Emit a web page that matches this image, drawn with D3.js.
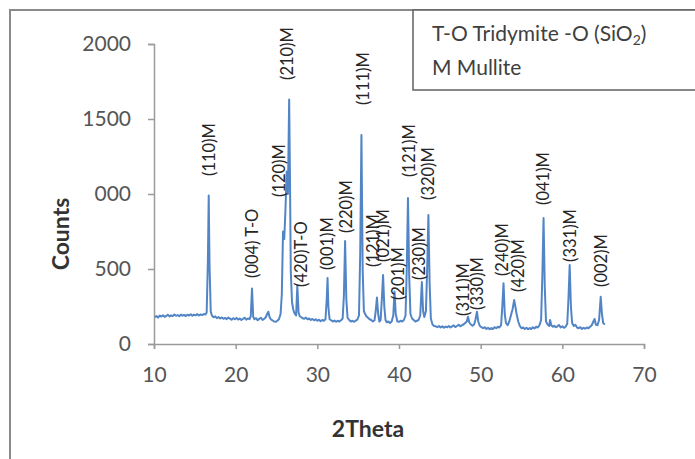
<!DOCTYPE html>
<html>
<head>
<meta charset="utf-8">
<script src="https://cdn.jsdelivr.net/npm/d3@7"></script>
<style>
  html, body { margin: 0; padding: 0; background: #fff; }
  svg { display: block; font-family: Lato, "Open Sans", sans-serif; }
</style>
</head>
<body>
<svg id="chart" width="695" height="459"></svg>
<script>
// X-ray diffraction scan: [2theta (deg), counts]
const scan = [
  [10.1,178],[10.3,186],[10.5,176],[10.7,190],[10.9,183],[11.1,192],[11.3,181],[11.5,188],
  [11.7,195],[11.9,184],[12.1,191],[12.3,186],[12.5,197],[12.7,188],[12.9,193],[13.1,185],
  [13.3,196],[13.5,189],[13.7,194],[13.9,186],[14.1,195],[14.3,190],[14.5,198],[14.7,188],
  [14.9,196],[15.1,191],[15.3,199],[15.5,190],[15.7,197],[15.9,193],[16.1,200],[16.3,196],
  [16.45,210],[16.6,560],[16.7,990],[16.8,520],[16.95,215],[17.1,188],[17.3,178],[17.5,184],
  [17.7,172],[17.9,180],[18.1,170],[18.3,177],[18.5,168],[18.7,174],[18.9,166],[19.1,176],
  [19.3,169],[19.5,162],[19.7,172],[19.9,165],[20.1,174],[20.3,163],[20.5,170],[20.7,160],
  [20.9,168],[21.1,175],[21.3,162],[21.5,170],[21.7,166],[21.85,185],[22.0,370],[22.15,180],
  [22.3,165],[22.5,172],[22.7,158],[22.9,168],[23.1,175],[23.3,160],[23.5,168],[23.7,180],
  [23.9,205],[24.0,215],[24.15,180],[24.3,165],[24.5,158],[24.7,150],[24.9,148],[25.1,155],
  [25.3,165],[25.5,200],[25.65,330],[25.8,750],[25.95,700],[26.1,900],[26.25,1150],[26.4,1000],
  [26.55,1630],[26.65,1100],[26.75,480],[26.9,280],[27.05,230],[27.2,205],[27.4,190],[27.55,390],
  [27.7,210],[27.85,185],[28.0,180],[28.2,172],[28.4,168],[28.6,176],[28.8,165],[29.0,170],
  [29.2,160],[29.4,167],[29.6,158],[29.8,165],[30.0,155],[30.2,162],[30.4,152],[30.6,160],
  [30.8,155],[31.0,165],[31.15,300],[31.25,440],[31.35,250],[31.5,165],[31.7,158],[31.9,150],
  [32.1,156],[32.3,148],[32.5,155],[32.7,150],[32.9,158],[33.1,170],[33.25,320],[33.4,687],
  [33.55,300],[33.7,175],[33.9,160],[34.1,150],[34.3,155],[34.5,148],[34.7,156],[34.9,162],
  [35.1,190],[35.25,600],[35.4,1393],[35.55,500],[35.7,220],[35.85,200],[36.0,185],[36.2,175],
  [36.4,165],[36.6,160],[36.8,150],[37.0,158],[37.15,220],[37.3,310],[37.45,200],[37.6,150],
  [37.75,160],[37.9,300],[38.05,460],[38.2,250],[38.35,160],[38.5,145],[38.7,150],[38.9,140],
  [39.1,150],[39.3,190],[39.45,350],[39.6,200],[39.8,150],[40.0,148],[40.2,155],[40.4,150],
  [40.6,160],[40.8,190],[40.95,500],[41.1,973],[41.25,450],[41.4,200],[41.6,170],[41.8,160],
  [42.0,150],[42.2,155],[42.4,160],[42.6,190],[42.8,413],[42.95,220],[43.1,180],[43.3,220],
  [43.45,500],[43.6,860],[43.75,400],[43.9,170],[44.1,130],[44.3,120],[44.5,118],[44.7,112],
  [44.9,120],[45.1,110],[45.3,118],[45.5,108],[45.7,116],[45.9,112],[46.1,120],[46.3,110],
  [46.5,117],[46.7,124],[46.9,113],[47.1,120],[47.3,128],[47.5,118],[47.7,125],[47.9,130],
  [48.1,140],[48.3,150],[48.45,182],[48.6,145],[48.8,130],[49.0,122],[49.2,130],[49.35,160],
  [49.55,215],[49.7,150],[49.9,120],[50.1,112],[50.3,105],[50.5,112],[50.7,100],[50.9,108],
  [51.1,98],[51.3,106],[51.5,100],[51.7,112],[51.9,105],[52.1,115],[52.3,110],[52.5,125],
  [52.65,250],[52.8,405],[52.95,200],[53.1,140],[53.3,125],[53.5,150],[53.7,190],[53.9,230],
  [54.1,293],[54.25,250],[54.4,200],[54.6,150],[54.8,120],[55.0,105],[55.2,110],[55.4,100],
  [55.6,108],[55.8,98],[56.0,106],[56.2,100],[56.4,112],[56.6,104],[56.8,115],[57.0,110],
  [57.2,125],[57.4,160],[57.55,450],[57.7,840],[57.85,380],[58.0,150],[58.2,130],[58.4,120],
  [58.5,160],[58.65,125],[58.85,115],[59.0,122],[59.2,112],[59.4,118],[59.6,127],[59.8,110],
  [60.0,118],[60.2,108],[60.4,115],[60.6,135],[60.75,300],[60.9,527],[61.05,250],[61.2,140],
  [61.4,120],[61.6,128],[61.8,110],[62.0,105],[62.2,112],[62.4,100],[62.6,108],[62.8,102],
  [63.0,110],[63.2,105],[63.4,115],[63.6,125],[63.8,150],[63.95,167],[64.1,130],[64.3,125],
  [64.5,160],[64.7,315],[64.85,200],[65.0,140],[65.2,130]
];

// Axis ticks
const xTicks = [10, 20, 30, 40, 50, 60, 70];
const yTicks = [0, 500, 1000, 1500, 2000];
const yTickLabels = ["0", "500", "000", "1500", "2000"];

// Reflection labels, anchored in data units (label centre 2theta, label foot in counts)
const peakLabels = ["(110)M", "(004) T-O", "(120)M", "(210)M", "(420)T-O", "(001)M", "(220)M",
  "(111)M", "(121)M", "(021)M", "(201)M", "(121)M", "(230)M", "(320)M", "(311)M", "(330)M",
  "(240)M", "(420)M", "(041)M", "(331)M", "(002)M"];
const peakLabelTheta = [16.73, 22.0, 25.3, 26.29, 28.0, 31.18, 33.51, 35.59, 36.82, 38.04,
  39.96, 41.22, 42.45, 43.55, 47.84, 49.55, 52.61, 54.57, 57.63, 60.94, 64.73];
const peakLabelFoot = [1120, 440, 980, 1760, 380, 493, 740, 1593, 513, 547, 293, 1113, 427,
  960, 187, 227, 453, 347, 927, 547, 380];

const legendLines = ["T-O Tridymite -O (SiO", "M Mullite"];

const svg = d3.select("#chart");

// Chart-area frame
svg.append("path")
  .attr("d", "M10,470V10H700")
  .attr("fill", "none")
  .attr("stroke", "#8a8a8a")
  .attr("stroke-width", 2);

const x = d3.scaleLinear().domain([10, 70]).range([154, 644]);
const y = d3.scaleLinear().domain([0, 2000]).range([344, 44]);

// Y axis
const yAxis = svg.append("g")
  .attr("transform", "translate(154,0)")
  .call(d3.axisLeft(y).tickValues(yTicks).tickSize(6).tickPadding(17)
    .tickFormat((d, i) => yTickLabels[i]));
// X axis
const xAxis = svg.append("g")
  .attr("transform", "translate(0,344)")
  .call(d3.axisBottom(x).tickValues(xTicks).tickSize(5).tickPadding(18)
    .tickFormat(d3.format("d")));

[yAxis, xAxis].forEach(g => {
  g.select(".domain").attr("stroke", "#9a9a9a").attr("stroke-width", 1.5);
  g.selectAll(".tick line").attr("stroke", "#9a9a9a").attr("stroke-width", 1.5);
  g.selectAll(".tick text")
    .attr("fill", "#555")
    .style("font-size", "21px")
    .style("font-family", "Lato, sans-serif");
});

// Diffraction trace
const line = d3.line().x(d => x(d[0])).y(d => y(d[1]));
svg.append("path")
  .datum(scan)
  .attr("d", line)
  .attr("fill", "none")
  .attr("stroke", "#5285c6")
  .attr("stroke-width", 2)
  .attr("stroke-linejoin", "round");

// Reflection labels (vertical)
svg.append("g").selectAll("text")
  .data(peakLabels)
  .join("text")
  .attr("transform", (d, i) =>
    `translate(${x(peakLabelTheta[i])},${y(peakLabelFoot[i])}) rotate(-90)`)
  .attr("dy", "0.35em")
  .attr("fill", "#262626")
  .style("font-size", "16.5px")
  .text(d => d);

// Axis titles
svg.append("text")
  .attr("x", 368).attr("y", 437)
  .attr("text-anchor", "middle")
  .attr("fill", "#333")
  .style("font-size", "23px").style("font-weight", "bold")
  .text("2Theta");

svg.append("text")
  .attr("transform", "translate(61,234) rotate(-90)")
  .attr("text-anchor", "middle")
  .attr("dy", "0.35em")
  .attr("fill", "#333")
  .style("font-size", "23px").style("font-weight", "bold")
  .text("Counts");

// Legend box
svg.append("rect")
  .attr("x", 413).attr("y", 10).attr("width", 300).attr("height", 80)
  .attr("fill", "#fff")
  .attr("stroke", "#606060")
  .attr("stroke-width", 1.5);

const leg1 = svg.append("text")
  .attr("x", 432).attr("y", 41)
  .attr("fill", "#404040")
  .style("font-size", "21px");
leg1.append("tspan").text(legendLines[0]);
leg1.append("tspan").attr("dy", 4).style("font-size", "14px").text("2");
leg1.append("tspan").attr("dy", -4).text(")");

svg.append("text")
  .attr("x", 432).attr("y", 75)
  .attr("fill", "#404040")
  .style("font-size", "21px")
  .text(legendLines[1]);
</script>
</body>
</html>
